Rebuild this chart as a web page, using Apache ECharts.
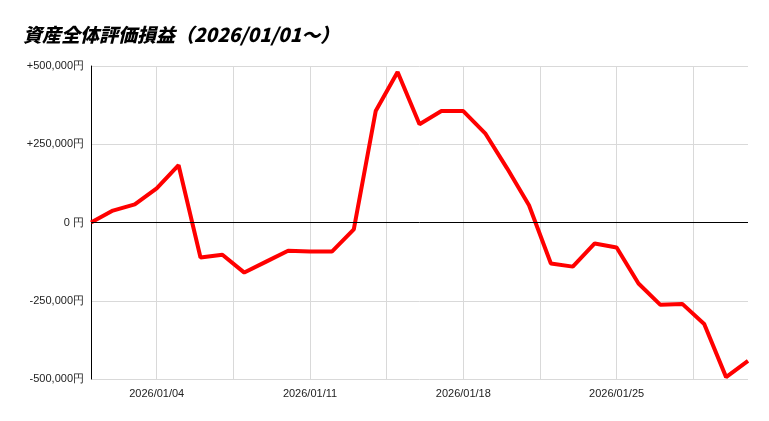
<!DOCTYPE html>
<html><head><meta charset="utf-8">
<script src="https://cdn.jsdelivr.net/npm/echarts@6/dist/echarts.min.js"></script>
<style>html,body{margin:0;padding:0;background:#fff}#c{width:769px;height:421px}</style>
</head><body><div id="c"></div>
<script>
// daily values 2026/01/01 .. 2026/01/31
var days = [];
for (var d = 1; d <= 31; d++) days.push('2026/01/' + (d < 10 ? '0' + d : d));
var values = [0, 38000, 58000, 109000, 183000, -112000, -103000, -160000, -125000, -90000,
  -93000, -93000, -22000, 356000, 481000, 314000, 356000, 356000, 285000, 173000,
  55000, -131000, -141000, -67000, -80000, -195000, -263000, -260000, -324000, -494000, -442000];
var labelDays = ['2026/01/04', '2026/01/11', '2026/01/18', '2026/01/25'];

// half-day slots so grid lines can sit every 3.5 days
var cats = [], data = [];
days.forEach(function (day, i) {
  cats.push(day); data.push(values[i]);
  if (i < days.length - 1) { cats.push(''); data.push(null); }
});

var chart = echarts.init(document.getElementById('c'));
chart.setOption({
  animation: false,
  title: {
    text: '資産全体評価損益（2026/01/01～）', left: 18, top: 20,
    textStyle: { fontFamily: 'Noto Sans CJK JP', fontSize: 19, fontWeight: 900, fontStyle: 'italic', color: '#000' }
  },
  grid: { left: 91, right: 21, top: 66, bottom: 42 },
  xAxis: {
    type: 'category', data: cats, boundaryGap: false,
    axisLine: { show: false }, axisTick: { show: false },
    axisLabel: {
      interval: function (i, v) { return labelDays.indexOf(v) >= 0; },
      color: '#222', fontSize: 11, fontFamily: 'Arial', margin: 9
    },
    splitLine: {
      show: true, interval: function (i) { return i >= 6 && (i - 6) % 7 === 0; },
      lineStyle: { color: '#d9d9d9' }
    }
  },
  yAxis: {
    type: 'value', min: -500000, max: 500000, interval: 250000,
    axisLine: { show: true, lineStyle: { color: '#000' } },
    axisTick: { show: false },
    axisLabel: {
      color: '#222', fontSize: 11, fontFamily: 'Arial', margin: 7,
      formatter: function (v) {
        if (v === 0) return '0 円';
        return (v > 0 ? '+' : '') + v.toLocaleString('en-US') + '円';
      }
    },
    splitLine: { lineStyle: { color: '#d9d9d9' } }
  },
  series: [{
    type: 'line', data: data, connectNulls: true, showSymbol: false,
    lineStyle: { color: '#ff0000', width: 4 },
    markLine: {
      silent: true, symbol: 'none', label: { show: false },
      lineStyle: { color: '#000', width: 1, type: 'solid' },
      data: [{ yAxis: 0 }]
    }
  }]
});
</script></body></html>
